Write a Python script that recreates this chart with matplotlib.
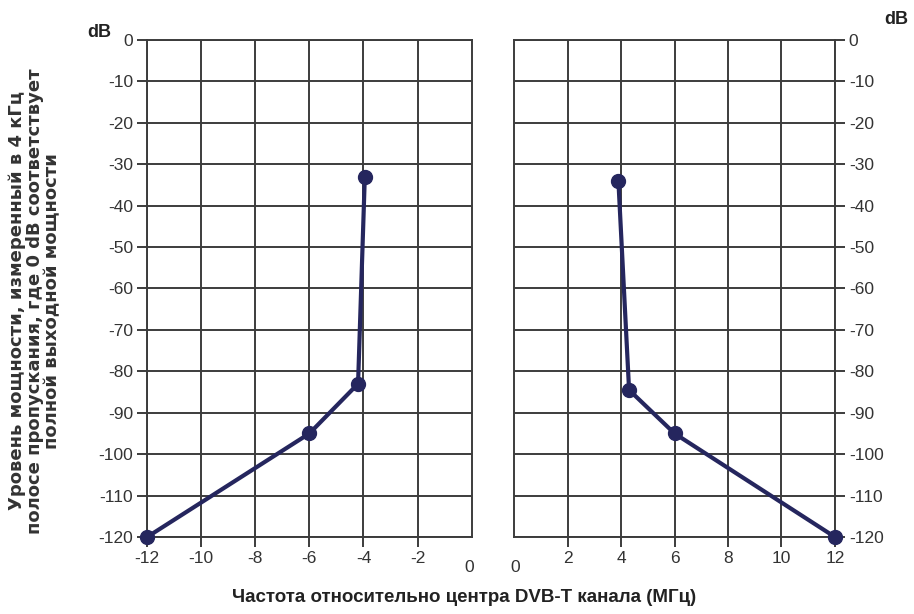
import matplotlib
matplotlib.use("Agg")
import matplotlib.pyplot as plt

plt.rcParams["font.family"] = ["Liberation Sans", "DejaVu Sans"]
plt.rcParams["axes.unicode_minus"] = False

# left half of the mask (negative offsets)
left_freq = [-12, -6, -4.2, -3.95]
left_db = [-120, -95, -83, -33]

# right half of the mask (positive offsets)
right_freq = [3.9, 4.3, 6, 12]
right_db = [-34, -84.5, -95, -120]

y_ticks = list(range(0, -121, -10))
left_xticks = [-12, -10, -8, -6, -4, -2]
right_xticks = [2, 4, 6, 8, 10, 12]

LINE_COLOR = "#25265e"
GRID_COLOR = "#3c3c3c"
TEXT_COLOR = "#333333"

fig = plt.figure(figsize=(9.14, 6.14), dpi=100)
ax_l = fig.add_axes([0.161, 0.1254, 0.355, 0.8095])
ax_r = fig.add_axes([0.5625, 0.1254, 0.351, 0.8095])


def style(ax, xlim, xticks, side):
    ax.set_xlim(*xlim)
    ax.set_ylim(-120, 0)
    ax.set_xticks(xticks)
    ax.set_yticks(y_ticks)
    ax.set_yticklabels([str(v) for v in y_ticks])
    ax.grid(True, color=GRID_COLOR, linewidth=1.4)
    for sp in ax.spines.values():
        sp.set_color(GRID_COLOR)
        sp.set_linewidth(1.4)
    ax.tick_params(axis="both", direction="out", length=7, width=1.4,
                   color=GRID_COLOR, labelsize=12.5, labelcolor=TEXT_COLOR, pad=3)
    if side == "right":
        ax.yaxis.tick_right()
    ax.set_axisbelow(True)


style(ax_l, (-12, 0), left_xticks, "left")
style(ax_r, (0, 12), right_xticks, "right")

for ax, fx, fy in [(ax_l, left_freq, left_db), (ax_r, right_freq, right_db)]:
    ax.plot(fx, fy, color=LINE_COLOR, linewidth=3, marker="o",
            markersize=10, clip_on=False, zorder=5)

# the two "0" labels at the centre sit a little lower than the other ticks
ax_l.text(-0.1, -125.5, "0", ha="center", va="top", fontsize=12.5, color=TEXT_COLOR)
ax_r.text(0.05, -125.5, "0", ha="center", va="top", fontsize=12.5, color=TEXT_COLOR)

fig.text(0.109, 0.947, "dB", fontsize=13, fontweight="bold", ha="center", va="center", color="#222222")
fig.text(0.981, 0.969, "dB", fontsize=13, fontweight="bold", ha="center", va="center", color="#222222")

fig.text(0.038, 0.51,
         "Уровень мощности, измеренный в 4 кГц\n"
         "полосе пропускания, где 0 dB соответствует\n"
         "полной выходной мощности",
         rotation=90, ha="center", va="center", multialignment="center",
         fontsize=13, fontweight="bold", color=TEXT_COLOR, linespacing=0.95,
         family="DejaVu Sans")

fig.text(0.508, 0.027, "Частота относительно центра DVB-T канала (МГц)",
         ha="center", va="center", fontsize=13.5, fontweight="bold", color="#222222")

fig.savefig("out.png", dpi=100, facecolor="white")
